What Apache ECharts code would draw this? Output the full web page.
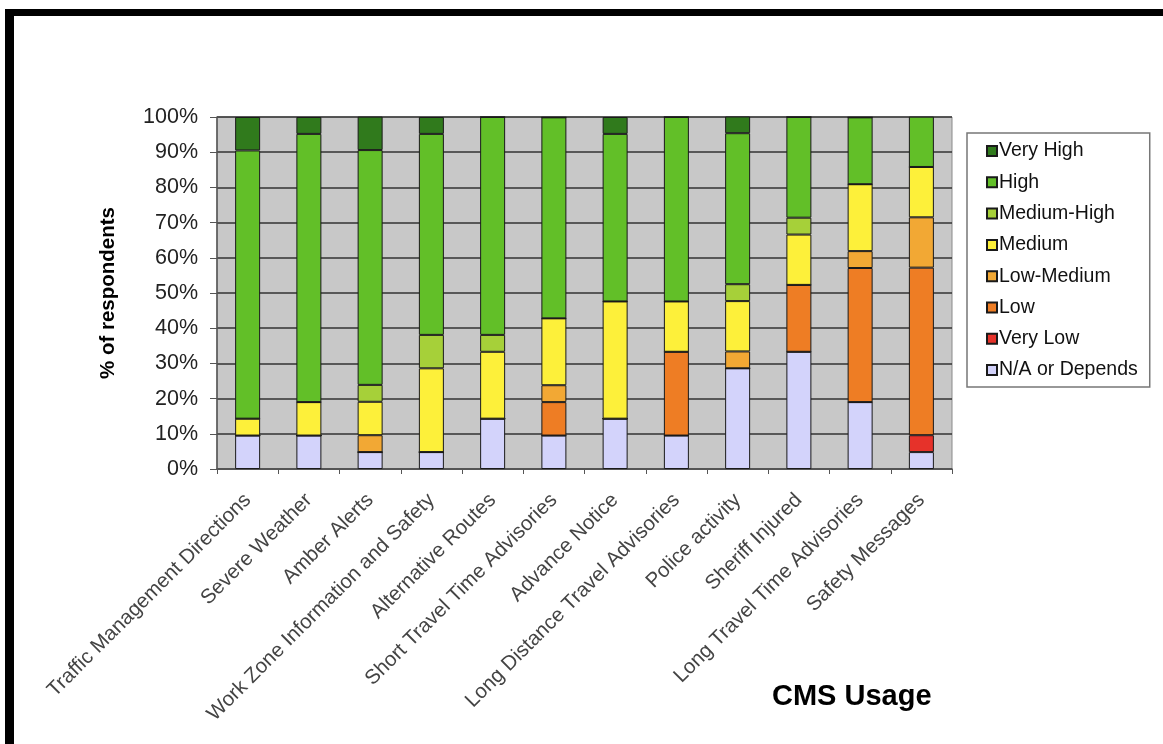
<!DOCTYPE html>
<html>
<head>
<meta charset="utf-8">
<style>
  html, body { margin: 0; padding: 0; background: #fff; }
  #chart { width: 1163px; height: 744px; }
</style>
<script src="https://cdn.jsdelivr.net/npm/echarts@6/dist/echarts.min.js"></script>
</head>
<body>
<div id="chart"></div>
<script>
const categories = [
  'Traffic Management Directions', 'Severe Weather', 'Amber Alerts',
  'Work Zone Information and Safety', 'Alternative Routes',
  'Short Travel Time Advisories', 'Advance Notice',
  'Long Distance Travel Advisories', 'Police activity', 'Sheriff Injured',
  'Long Travel Time Advisories', 'Safety Messages'
];
const yTicks = [0, 10, 20, 30, 40, 50, 60, 70, 80, 90, 100];

// percentages, bottom to top
const naOrDepends = [9.5, 9.5, 4.8, 4.8, 14.3, 9.5, 14.3, 9.5, 28.6, 33.3, 19.0, 4.8];
const veryLow     = [0, 0, 0, 0, 0, 0, 0, 0, 0, 0, 0, 4.8];
const low         = [0, 0, 0, 0, 0, 9.5, 0, 23.8, 0, 19.0, 38.1, 47.6];
const lowMedium   = [0, 0, 4.8, 0, 0, 4.8, 0, 0, 4.8, 0, 4.8, 14.3];
const medium      = [4.8, 9.5, 9.5, 23.8, 19.0, 19.0, 33.3, 14.3, 14.3, 14.3, 19.0, 14.3];
const mediumHigh  = [0, 0, 4.8, 9.5, 4.8, 0, 0, 0, 4.8, 4.8, 0, 0];
const high        = [76.2, 76.2, 66.7, 57.1, 61.9, 57.1, 47.6, 52.4, 42.9, 28.6, 19.0, 14.3];
const veryHigh    = [9.5, 4.8, 9.5, 4.8, 0, 0, 4.8, 0, 4.8, 0, 0, 0];

const seriesDefs = [
  { name: 'N/A or Depends', data: naOrDepends, color: '#d3d3fb' },
  { name: 'Very Low',       data: veryLow,     color: '#e6322a' },
  { name: 'Low',            data: low,         color: '#ee7d24' },
  { name: 'Low-Medium',     data: lowMedium,   color: '#f2a834' },
  { name: 'Medium',         data: medium,      color: '#fdf03a' },
  { name: 'Medium-High',    data: mediumHigh,  color: '#a6d039' },
  { name: 'High',           data: high,        color: '#62bf28' },
  { name: 'Very High',      data: veryHigh,    color: '#307a1c' }
];

const chart = echarts.init(document.getElementById('chart'));
const FONT = 'Liberation Sans, Arial, sans-serif';

chart.setOption({
  animation: false,
  textStyle: { fontFamily: FONT },
  title: {
    text: 'CMS Usage',
    left: 767, top: 677,
    textStyle: { fontFamily: FONT, fontSize: 29, fontWeight: 'bold', color: '#000' }
  },
  legend: {
    orient: 'vertical',
    left: 967, top: 133,
    data: seriesDefs.map(s => s.name).slice().reverse(),
    icon: 'rect',
    itemWidth: 10, itemHeight: 10,
    itemGap: 11.3,
    padding: [8, 12, 7, 19],
    borderColor: '#777', borderWidth: 1.5,
    textStyle: { fontFamily: FONT, fontSize: 19.5, color: '#111', lineHeight: 20, padding: [0, 0, 0, -3] }
  },
  grid: {
    left: 217, top: 117, right: 211, bottom: 275,
    show: true, backgroundColor: '#c8c8c8', borderColor: '#8a8a8a', borderWidth: 1
  },
  xAxis: {
    type: 'category',
    data: categories,
    axisLine: { lineStyle: { color: '#555', width: 1.5 } },
    axisTick: { show: true, length: 5, lineStyle: { color: '#555' } },
    axisLabel: { rotate: 45, fontFamily: FONT, fontSize: 20.5, color: '#444', margin: 28, interval: 0 }
  },
  yAxis: {
    type: 'value',
    min: 0, max: 100, interval: 10,
    axisLine: { show: true, lineStyle: { color: '#555', width: 1.5 } },
    axisTick: { show: true, inside: false, length: 7, lineStyle: { color: '#555' } },
    splitLine: { show: true, lineStyle: { color: '#333', width: 1.5 } },
    axisLabel: {
      fontFamily: FONT, fontSize: 21.5, color: '#222', margin: 19,
      formatter: v => (yTicks.indexOf(v) >= 0 ? v + '%' : '')
    },
    name: '% of respondents',
    nameLocation: 'middle',
    nameGap: 98,
    nameTextStyle: { fontFamily: FONT, fontSize: 20.5, fontWeight: 'bold', color: '#000' }
  },
  series: seriesDefs.map(s => ({
    name: s.name,
    type: 'bar',
    stack: 'total',
    barWidth: 25,
    data: s.data,
    itemStyle: { color: s.color, borderColor: '#1a1a1a', borderWidth: 1 }
  })),
  graphic: [
    { type: 'rect', shape: { x: 7, y: 9, width: 1160, height: 7 }, style: { fill: '#000' }, z: 100 },
    { type: 'rect', shape: { x: 5, y: 9, width: 9, height: 740 }, style: { fill: '#000' }, z: 100 }
  ]
});
</script>
</body>
</html>
